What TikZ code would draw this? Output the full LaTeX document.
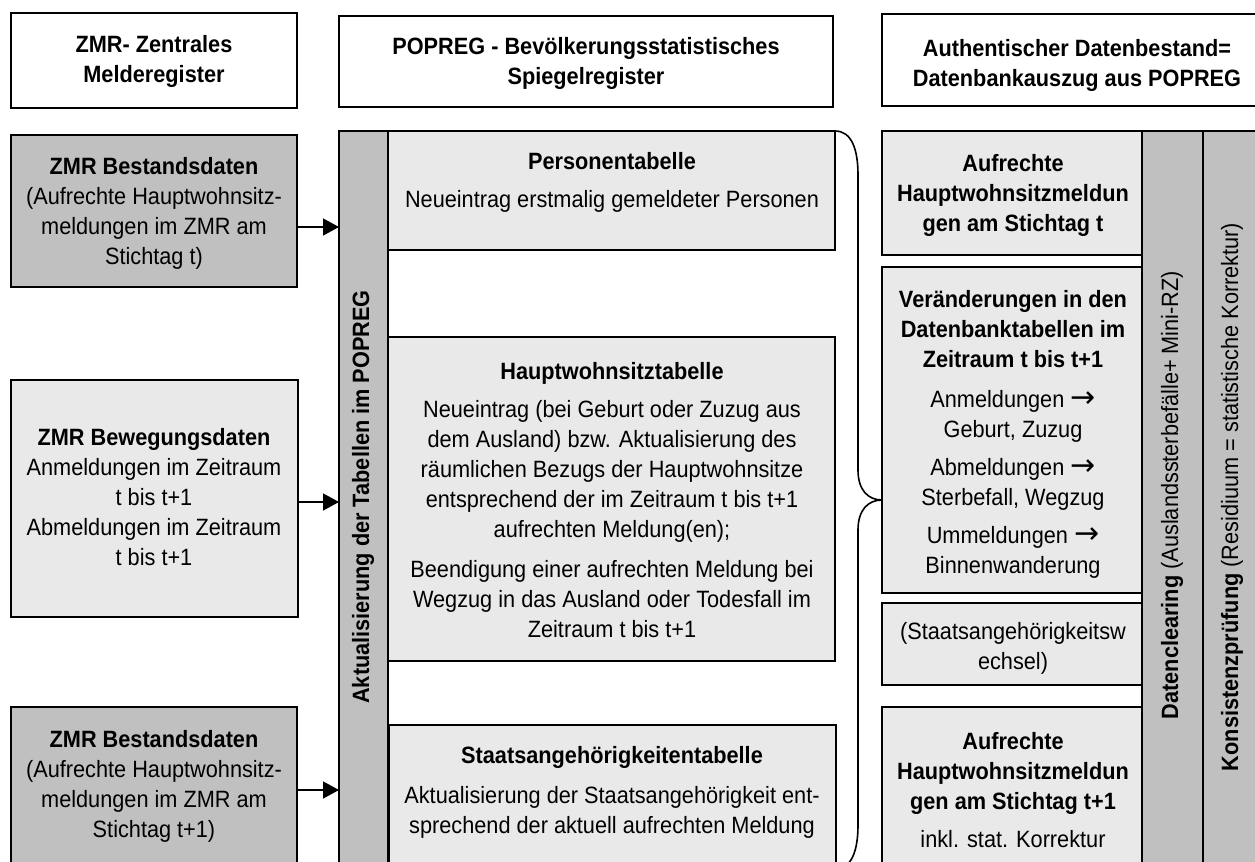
\documentclass[tikz,border=0pt]{standalone}
\usepackage{fontspec}
\setmainfont{Liberation Sans}[FakeStretch=0.92]
\newfontfamily\arrowfont{DejaVu Sans}
\usetikzlibrary{arrows.meta,fit}
\definecolor{gdark}{RGB}{192,192,192}
\definecolor{glight}{RGB}{233,233,233}
\newcommand{\rarr}{{\arrowfont\fontsize{15}{15}\selectfont →}}
\begin{document}
\begin{tikzpicture}[x=0.5pt,y=-0.5pt,
  box/.style={draw=black, line width=1pt, inner sep=0pt, outer sep=0pt},
  darkbox/.style={box, fill=gdark},
  lightbox/.style={box, fill=glight},
  whitebox/.style={box, fill=white},
  txt/.style={align=center, inner sep=0pt, font=\fontsize{11.8}{15}\selectfont},
  btxt/.style={align=center, inner sep=0pt, font=\fontsize{11.8}{15}\selectfont\bfseries},
  arr/.style={line width=0.7pt, -{Triangle[length=8pt,width=8.5pt]}},
  bracestyle/.style={line width=0.8pt},
]
\useasboundingbox (0,0) rectangle (1255,862);
\clip (0,0) rectangle (1255,862);

% headers
\node[whitebox, fit={(11,13)(297,108)}] (h1) {};
\node[btxt] (h1t) at (154,61) {ZMR- Zentrales\\Melderegister};
\node[whitebox, fit={(339,16)(833,107)}] (h2) {};
\node[btxt] (h2t) at (586,63) {POPREG - Bevölkerungsstatistisches\\Spiegelregister};
\node[whitebox, fit={(882,14)(1272,106)}] (h3) {};
\node[btxt] (h3t) at (1077,65) {Authentischer Datenbestand=\\Datenbankauszug aus POPREG};

% left column
\node[darkbox, fit={(11,135)(297,287)}] (b1) {};
\node[txt] (b1t) at (154,213) {\textbf{ZMR Bestandsdaten}\\(Aufrechte Hauptwohnsitz-\\meldungen im ZMR am\\Stichtag t)};
\node[lightbox, fit={(11,380)(298,617)}] (b2) {};
\node[txt] (b2t) at (154,497) {\textbf{ZMR Bewegungsdaten}\\Anmeldungen im Zeitraum\\t bis t+1\\Abmeldungen im Zeitraum\\t bis t+1};
\node[darkbox, fit={(11,707)(297,870)}] (b3) {};
\node[txt] (b3t) at (154,786) {\textbf{ZMR Bestandsdaten}\\(Aufrechte Hauptwohnsitz-\\meldungen im ZMR am\\Stichtag t+1)};

% Aktualisierung bar
\node[darkbox, fit={(339,131)(388,880)}] (akt) {};
\node[btxt, rotate=90] (aktt) at (363,497) {Aktualisierung der Tabellen im POPREG};

% middle tables
\node[lightbox, fit={(388,131)(835,250)}] (pers) {};
\node[txt] (perst) at (612,182) {\textbf{Personentabelle}\\[4pt]Neueintrag erstmalig gemeldeter Personen};
\node[lightbox, fit={(388,337)(835,661)}] (hws) {};
\node[txt] (hwst) at (612,500) {\textbf{Hauptwohnsitztabelle}\\[4pt]Neueintrag (bei Geburt oder Zuzug aus\\dem Ausland) bzw. Aktualisierung des\\räumlichen Bezugs der Hauptwohnsitze\\entsprechend der im Zeitraum t bis t+1\\aufrechten Meldung(en);\\[5pt]Beendigung einer aufrechten Meldung bei\\Wegzug in das Ausland oder Todesfall im\\Zeitraum t bis t+1};
\node[lightbox, fit={(389,725)(836,880)}] (sta) {};
\node[txt] (stat) at (612,792) {\textbf{Staatsangehörigkeitentabelle}\\[5pt]Aktualisierung der Staatsangehörigkeit ent-\\sprechend der aktuell aufrechten Meldung};

% arrows
\draw[arr] (b1.east |- 0,227) -- (akt.west |- 0,227);
\draw[arr] (b2.east |- 0,502) -- (akt.west |- 0,502);
\draw[arr] (b3.east |- 0,790) -- (akt.west |- 0,790);

% right column
\node[lightbox, fit={(882,131)(1142,255)}] (r1) {};
\node[btxt] (r1t) at (1013,195) {Aufrechte\\Hauptwohnsitzmeldun\\gen am Stichtag t};
\node[lightbox, fit={(882,267)(1142,593)}] (r2) {};
\node[txt] (r2t) at (1013,434) {\textbf{Veränderungen in den}\\\textbf{Datenbanktabellen im}\\\textbf{Zeitraum t bis t+1}\\[5pt]Anmeldungen \rarr\\Geburt, Zuzug\\[4pt]Abmeldungen \rarr\\Sterbefall, Wegzug\\[4pt]Ummeldungen \rarr\\Binnenwanderung};
\node[lightbox, fit={(882,603)(1142,685)}] (r3) {};
\node[txt] (r3t) at (1013,648) {(Staatsangehörigkeitsw\\echsel)};
\node[lightbox, fit={(882,707)(1142,880)}] (r4) {};
\node[txt] (r4t) at (1013,790) {\textbf{Aufrechte}\\\textbf{Hauptwohnsitzmeldun}\\\textbf{gen am Stichtag t+1}\\[4pt]inkl. stat. Korrektur};

% right bars
\node[darkbox, fit={(1142,131)(1203,880)}] (dc) {};
\node[txt, rotate=90] (dct) at (1172,495) {\textbf{Datenclearing} (Auslandssterbefälle+ Mini-RZ)};
\node[darkbox, fit={(1203,131)(1266,880)}] (kp) {};
\node[txt, rotate=90] (kpt) at (1232,497) {\textbf{Konsistenzprüfung} (Residiuum = statistische Korrektur)};

% brace
\draw[bracestyle] (pers.north east) .. controls (852,131) and (858,150) .. (858,175) -- (858,470) .. controls (858,490) and (868,500) .. (r2.west |- 0,500) .. controls (868,500) and (858,510) .. (858,530) -- (858,825) .. controls (858,850) and (852,869) .. (835,869);
\end{tikzpicture}
\end{document}
